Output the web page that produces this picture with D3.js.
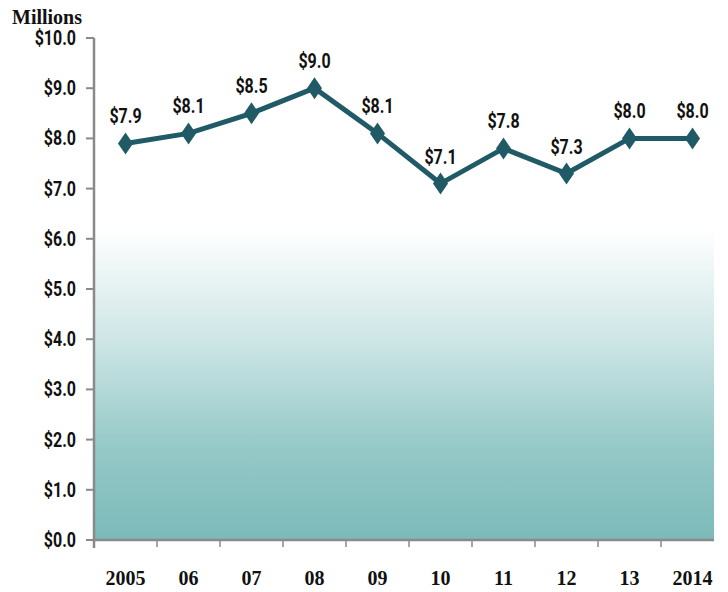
<!DOCTYPE html>
<html><head><meta charset="utf-8">
<script src="https://cdn.jsdelivr.net/npm/d3@7"></script>
<style>
body{margin:0;background:#fff;}
svg{display:block;}
</style></head>
<body>
<svg id="chart" width="728" height="592"></svg>
<script>
const years = ["2005","06","07","08","09","10","11","12","13","2014"];
const values = [7.9, 8.1, 8.5, 9.0, 8.1, 7.1, 7.8, 7.3, 8.0, 8.0];
const yTicks = [0,1,2,3,4,5,6,7,8,9,10];
const fillTop = 6.2;

(function(){
const svg = d3.select("#chart");
const pL = 94, pR = 714, pT = 38, pB = 540;
const x = d3.scaleBand().domain(years).range([pL, pL + 63 * years.length]).padding(0);
const y = d3.scaleLinear().domain([0, 10]).range([pB, pT]);

const lineColor = "#1f5a66";
const numFont = "Roboto,'Liberation Sans',sans-serif";
const serifFont = "'Liberation Serif','Times New Roman',serif";
const sx = 0.8;

const defs = svg.append("defs");
const grad = defs.append("linearGradient").attr("id","g").attr("x1",0).attr("y1",0).attr("x2",0).attr("y2",1);
grad.append("stop").attr("offset","0%").attr("stop-color","#ffffff");
grad.append("stop").attr("offset","35%").attr("stop-color","#cfe6e6");
grad.append("stop").attr("offset","70%").attr("stop-color","#95c9c8");
grad.append("stop").attr("offset","100%").attr("stop-color","#7bbab9");

svg.append("rect").attr("x", pL).attr("y", y(fillTop)).attr("width", pR - pL).attr("height", y(0) - y(fillTop)).attr("fill","url(#g)");

// y axis
const yAxis = svg.append("g");
yAxis.append("line").attr("x1",pL).attr("x2",pL).attr("y1",pT).attr("y2",pB+8).attr("stroke","#8a8a8a").attr("stroke-width",2.5);
yAxis.selectAll("line.t").data(yTicks).join("line").attr("class","t")
  .attr("x1",pL-8).attr("x2",pL).attr("y1",d=>y(d)).attr("y2",d=>y(d)).attr("stroke","#8a8a8a").attr("stroke-width",2);
yAxis.selectAll("text").data(yTicks).join("text")
  .attr("transform",d=>`translate(76,${y(d)+7}) scale(${sx},1)`).attr("text-anchor","end")
  .attr("font-family",numFont).attr("font-weight","bold").attr("font-size",20).attr("fill","#111")
  .text(d=>"$"+d.toFixed(1));

// x axis
const xAxis = svg.append("g");
xAxis.append("line").attr("x1",pL).attr("x2",pR).attr("y1",pB).attr("y2",pB).attr("stroke","#8a8a8a").attr("stroke-width",2.5);
xAxis.selectAll("line.t").data(years).join("line").attr("class","t")
  .attr("x1",d=>x(d)).attr("x2",d=>x(d)).attr("y1",pB).attr("y2",pB+7).attr("stroke","#8a8a8a").attr("stroke-width",1.5);
xAxis.selectAll("text").data(years).join("text")
  .attr("x",d=>x(d)+x.bandwidth()/2).attr("y",585).attr("text-anchor","middle")
  .attr("font-family",serifFont).attr("font-weight","bold").attr("font-size",20).attr("fill","#111")
  .text(d=>d);

svg.append("text").attr("x",12).attr("y",24).attr("font-family",serifFont).attr("font-weight","bold").attr("font-size",20).attr("fill","#111").text("Millions");

// line
const cx = (d,i)=>x(years[i])+x.bandwidth()/2;
const line = d3.line().x((d,i)=>cx(d,i)).y(d=>y(d));
svg.append("path").datum(values).attr("d",line).attr("fill","none").attr("stroke",lineColor).attr("stroke-width",5).attr("stroke-linejoin","miter");

svg.selectAll("path.m").data(values).join("path").attr("class","m")
  .attr("transform",(d,i)=>`translate(${cx(d,i)},${y(d)})`)
  .attr("d","M0,-11L7.5,0L0,11L-7.5,0Z").attr("fill",lineColor);

svg.selectAll("text.l").data(values).join("text").attr("class","l")
  .attr("transform",(d,i)=>`translate(${cx(d,i)},${y(d)-20}) scale(${sx},1)`).attr("text-anchor","middle")
  .attr("font-family",numFont).attr("font-weight","bold").attr("font-size",20).attr("fill","#111")
  .text(d=>"$"+d.toFixed(1));
})();
</script>
</body></html>
